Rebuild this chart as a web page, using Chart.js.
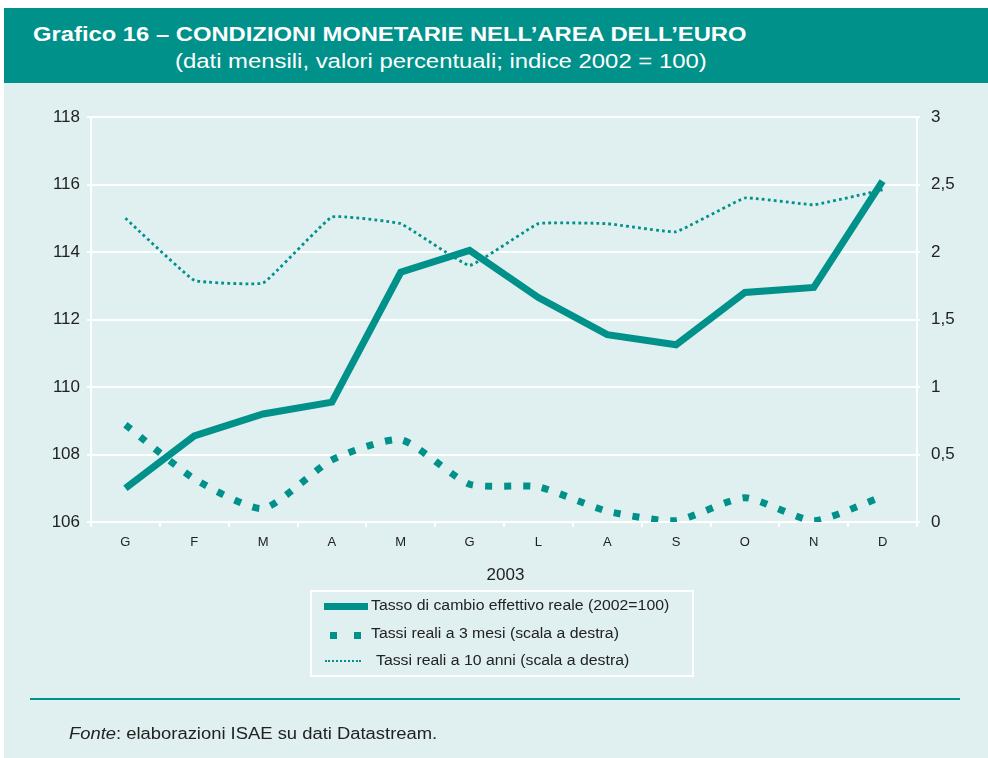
<!DOCTYPE html>
<html>
<head>
<meta charset="utf-8">
<script src="https://cdn.jsdelivr.net/npm/chart.js@4.4.0/dist/chart.umd.min.js"></script>
<style>
  html, body { margin:0; padding:0; }
  body { width:988px; height:758px; position:relative; background:#fff; overflow:hidden;
         font-family:"Liberation Sans", Arial, Helvetica, sans-serif; }
  #panel { position:absolute; left:4px; top:8px; width:984px; height:750px; background:#e0eff0; }
  #header { position:absolute; left:4px; top:8px; width:984px; height:75px; background:#00918a; color:#fff; }
  #t1 { position:absolute; left:29px; top:14px; font-weight:bold; font-size:20.5px; white-space:nowrap; transform:scaleX(1.16); transform-origin:0 0; }
  #t2 { position:absolute; left:171px; top:41px; font-size:20.5px; white-space:nowrap; transform:scaleX(1.165); transform-origin:0 0; }
  #chartwrap { position:absolute; left:0; top:0; width:988px; height:758px; }
  #xtitle { position:absolute; left:0; width:1011px; top:565px; text-align:center; font-size:17px; color:#222; }
  #legend { position:absolute; left:310px; top:590px; width:380px; height:83px; border:2px solid #fff; color:#222; font-size:14px; }
  .li { position:absolute; white-space:nowrap; transform:scaleX(1.13); transform-origin:0 0; }
  .sq { position:absolute; width:7px; height:7px; background:#00918a; }
  #rule { position:absolute; left:30px; top:698px; width:930px; height:2px; background:#00918a; }
  #fonte { position:absolute; left:69px; top:725px; font-size:16px; color:#222; white-space:nowrap; transform:scaleX(1.15); transform-origin:0 0; }
</style>
</head>
<body>
<div id="panel"></div>
<div id="header">
  <div id="t1">Grafico 16 – CONDIZIONI MONETARIE NELL’AREA DELL’EURO</div>
  <div id="t2">(dati mensili, valori percentuali; indice 2002 = 100)</div>
</div>
<div id="chartwrap"><canvas id="c" width="988" height="758"></canvas></div>
<div id="xtitle">2003</div>
<div id="legend">
  <div style="position:absolute;left:12px;top:11px;width:44px;height:7px;background:#00918a;"></div>
  <div class="li" style="left:59px;top:5px;">Tasso di cambio effettivo reale (2002=100)</div>
  <div class="sq" style="left:18px;top:40px;"></div>
  <div class="sq" style="left:42px;top:40px;"></div>
  <div class="li" style="left:59px;top:33px;">Tassi reali a 3 mesi (scala a destra)</div>
  <div style="position:absolute;left:13px;top:68px;width:36px;height:0;border-top:2.5px dotted #00918a;"></div>
  <div class="li" style="left:64px;top:60px;">Tassi reali a 10 anni (scala a destra)</div>
</div>
<div id="rule"></div>
<div id="fonte"><i>Fonte</i>: elaborazioni ISAE su dati Datastream.</div>
<script>
const categories = ["G","F","M","A","M","G","L","A","S","O","N","D"];
const cambioReale = [107.0,108.55,109.2,109.55,113.4,114.05,112.65,111.55,111.25,112.8,112.95,116.1];
const tassi3m = [0.72,0.32,0.10,0.46,0.61,0.28,0.26,0.08,0.01,0.18,0.01,0.19];
const tassi10a = [2.25,1.79,1.77,2.26,2.21,1.90,2.21,2.21,2.15,2.40,2.35,2.46];
const leftTicks = [106,108,110,112,114,116,118];
const rightTicks = [0,0.5,1,1.5,2,2.5,3];

const TEAL = '#00918a';
const txt = '#222';
const FONT = '"Liberation Sans", Arial, Helvetica, sans-serif';

new Chart(document.getElementById('c'), {
  type: 'line',
  data: {
    labels: categories,
    datasets: [
      { label:'Tasso di cambio effettivo reale (2002=100)', data:cambioReale, yAxisID:'y',
        borderColor:TEAL, borderWidth:7, pointRadius:0, tension:0, borderJoinStyle:'miter', borderCapStyle:'butt', order:1 },
      { label:'Tassi reali a 3 mesi (scala a destra)', data:tassi3m, yAxisID:'y2',
        borderColor:TEAL, borderWidth:7, borderDash:[7,12], pointRadius:0, tension:0.2, borderCapStyle:'butt', order:2 },
      { label:'Tassi reali a 10 anni (scala a destra)', data:tassi10a, yAxisID:'y2',
        borderColor:TEAL, borderWidth:2.8, borderDash:[2.8,3.2], pointRadius:0, tension:0.08, borderCapStyle:'butt', order:3 }
    ]
  },
  options: {
    responsive:false, animation:false,
    layout:{ padding:{ top:117, left:0, right:0, bottom:0 } },
    plugins:{ legend:{display:false}, tooltip:{enabled:false} },
    scales:{
      x:{
        offset:true,
        grid:{ offset:true, drawOnChartArea:false, drawTicks:true, tickLength:5, color:'#fff', lineWidth:2 },
        border:{ display:true, color:'#fff', width:2 },
        ticks:{ color:txt, font:{ family:FONT, size:13 }, padding:8, maxRotation:0, autoSkip:false },
        afterFit(s){ s.height = 758-522; }
      },
      y:{
        position:'left', min:106, max:118,
        afterBuildTicks(s){ s.ticks = leftTicks.map(v=>({value:v})); },
        grid:{ color:'#fff', lineWidth:2, tickLength:4 },
        border:{ display:true, color:'#fff', width:2 },
        ticks:{ color:txt, font:{ family:FONT, size:17 }, padding:7 },
        afterFit(s){ s.width = 91; }
      },
      y2:{
        position:'right', min:0, max:3,
        afterBuildTicks(s){ s.ticks = rightTicks.map(v=>({value:v})); },
        grid:{ drawOnChartArea:false, color:'#fff', lineWidth:2, tickLength:3 },
        border:{ display:true, color:'#fff', width:2 },
        ticks:{ color:txt, font:{ family:FONT, size:17 }, padding:11,
          callback:(v)=> String(v).replace('.',',') },
        afterFit(s){ s.width = 988-917; }
      }
    }
  }
});
</script>
</body>
</html>
